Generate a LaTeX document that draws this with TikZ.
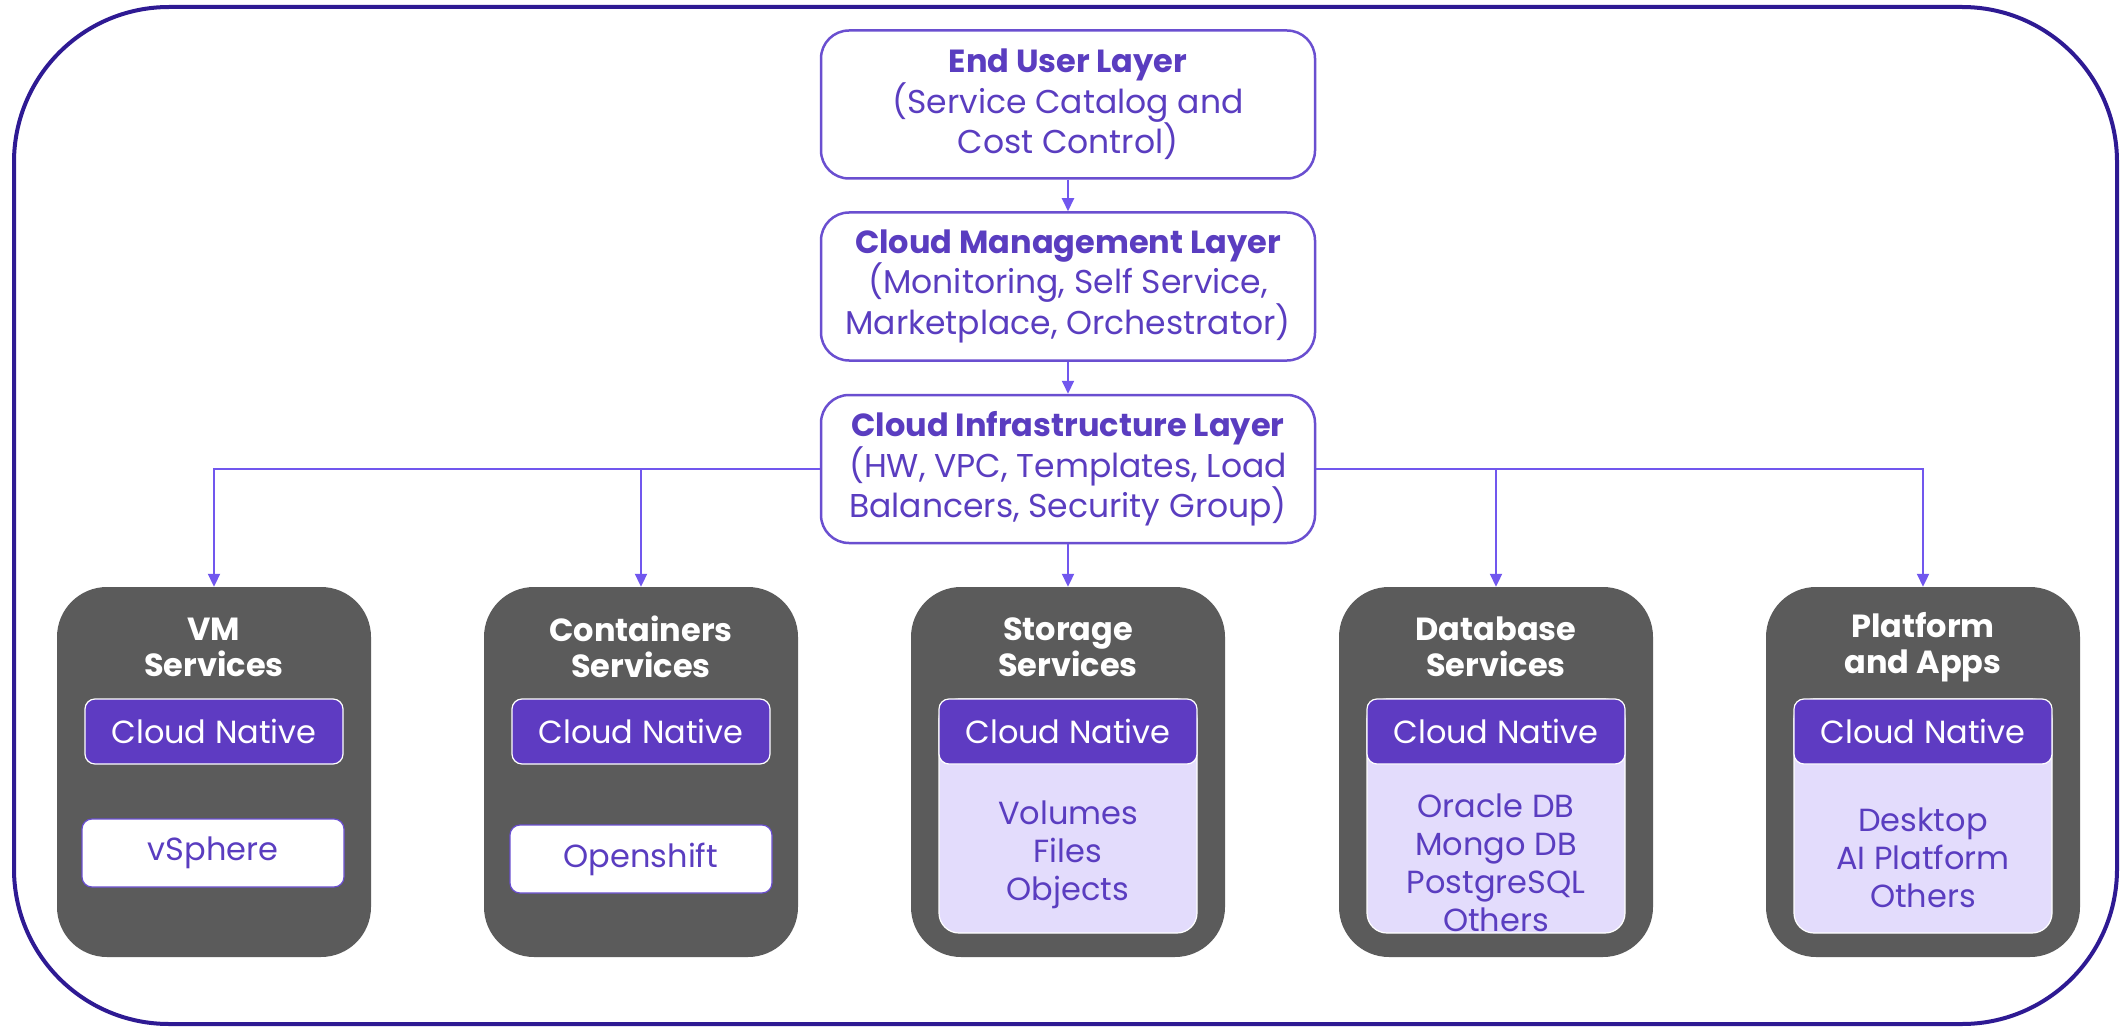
\documentclass[tikz,border=0pt]{standalone}
\usepackage{fontspec}
\setmainfont{Poppins}
\usetikzlibrary{arrows.meta}
\definecolor{framec}{HTML}{2E1A93}
\definecolor{boxborder}{HTML}{6A4FD0}
\definecolor{txt}{HTML}{5A3DC0}
\definecolor{arrowc}{HTML}{7157EE}
\definecolor{darkc}{HTML}{5B5B5B}
\definecolor{cnfill}{HTML}{5E3BC2}
\definecolor{lav}{HTML}{E3DCFC}
\begin{document}
\begin{tikzpicture}[x=1pt,y=-1pt,
  layer/.style={draw=boxborder, line width=2.5pt, rounded corners=28pt, fill=white,
    minimum width=494pt, minimum height=148pt, inner sep=0pt, align=center, text=txt,
    font=\fontsize{33}{38}\selectfont},
  layertitle/.style={font=\bfseries\fontsize{32}{38}\selectfont},
  svc/.style={fill=darkc, rounded corners=50pt, minimum width=314pt, minimum height=370pt, inner sep=0pt},
  svctitle/.style={text=white, align=center, font=\bfseries\fontsize{32}{36}\selectfont},
  cn/.style={fill=cnfill, draw=white, line width=1.2pt, rounded corners=10pt, inner sep=0pt,
    minimum width=258pt, minimum height=65pt, text=white, font=\fontsize{32}{36}\selectfont},
  plainbox/.style={fill=white, draw=boxborder, line width=1.2pt, rounded corners=10pt, inner sep=0pt,
    minimum width=262pt, minimum height=68pt, text=txt, font=\fontsize{32}{36}\selectfont},
  panel/.style={fill=lav, draw=white, line width=1.2pt, rounded corners=20pt, inner sep=0pt,
    minimum width=258pt, minimum height=234pt},
  listtxt/.style={text=txt, align=center, font=\fontsize{32}{38}\selectfont},
  conn/.style={draw=arrowc, line width=2pt, -{Triangle[length=13pt,width=12pt]}}
]
\useasboundingbox (0,0) rectangle (2121,1027);
% outer frame
\draw[framec, line width=4pt, rounded corners=155pt] (14,7) rectangle (2117,1024);

% layers
\node[layer] (enduser) at (1068,104.5) {{\bfseries\fontsize{32}{38}\selectfont End User Layer}\\(Service Catalog and\\Cost Control)};
\node[layer] (mgmt) at (1068,286.5) {{\bfseries\fontsize{32}{38}\selectfont Cloud Management Layer}\\(Monitoring, Self Service,\\Marketplace, Orchestrator)};
\node[layer] (infra) at (1068,469) {{\bfseries\fontsize{32}{38}\selectfont Cloud Infrastructure Layer}\\(HW, VPC, Templates, Load\\Balancers, Security Group)};

% service boxes
\node[svc] (vm) at (214,772) {};
\node[svc] (cont) at (641,772) {};
\node[svc] (stor) at (1068,772) {};
\node[svc] (db) at (1496,772) {};
\node[svc] (plat) at (1923,772) {};

\node[svctitle] (vmt) at (214,647) {VM\\Services};
\node[svctitle] (contt) at (641,647) {Containers\\Services};
\node[svctitle] (stort) at (1068,647) {Storage\\Services};
\node[svctitle] (dbt) at (1496,647) {Database\\Services};
\node[svctitle] (platt) at (1923,647) {Platform\\and Apps};

% VM
\node[cn] (vmcn) at (214,731.5) {Cloud Native};
\node[plainbox] (vsphere) at (213,853) {vSphere};
% Containers
\node[cn] (contcn) at (641,731.5) {Cloud Native};
\node[plainbox] (openshift) at (641,859) {Openshift};
% Storage
\node[panel] (storp) at (1068,816) {};
\node[cn] (storcn) at (1068,731.5) {Cloud Native};
\node[listtxt] (storl) at (1068,855) {Volumes\\Files\\Objects};
% Database
\node[panel] (dbp) at (1496,816) {};
\begin{scope}
\clip (dbp.north west) rectangle (dbp.south east);
\node[listtxt] (dbl) at (1496,863) {Oracle DB\\Mongo DB\\PostgreSQL\\Others};
\end{scope}
\node[cn] (dbcn) at (1496,731.5) {Cloud Native};
% Platform
\node[panel] (platp) at (1923,816) {};
\node[cn] (platcn) at (1923,731.5) {Cloud Native};
\node[listtxt] (platl) at (1923,858) {Desktop\\AI Platform\\Others};

% connectors
\draw[conn] (enduser) -- (mgmt);
\draw[conn] (mgmt) -- (infra);
\draw[conn] (infra) -- (stor);
\draw[conn] (infra.west) -| (vm.north);
\draw[conn] (infra.west) -| (cont.north);
\draw[conn] (infra.east) -| (db.north);
\draw[conn] (infra.east) -| (plat.north);
\end{tikzpicture}
\end{document}
